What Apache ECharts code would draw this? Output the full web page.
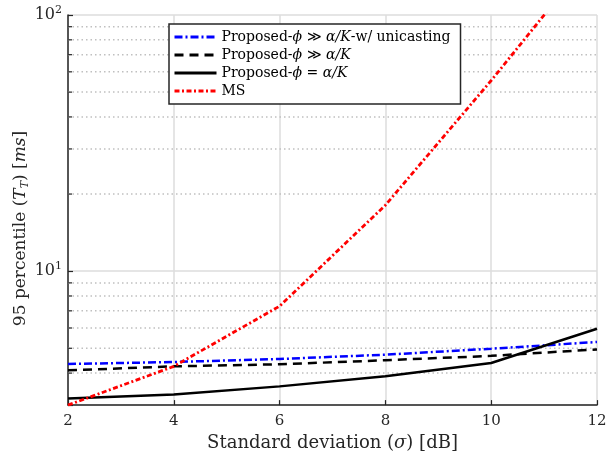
<!DOCTYPE html>
<html><head><meta charset="utf-8">
<script src="https://cdn.jsdelivr.net/npm/echarts@6/dist/echarts.min.js"></script>
<style>html,body{margin:0;padding:0;background:#fff}#c{width:613px;height:457px}</style>
</head><body><div id="c"></div>
<script>
const xValues = [2, 4, 6, 8, 10, 12];
const blueUnicast = [4.34, 4.42, 4.54, 4.72, 4.98, 5.29];
const blackDashed = [4.10, 4.25, 4.33, 4.49, 4.67, 4.95];
const blackSolid = [3.18, 3.30, 3.55, 3.89, 4.38, 5.96];
const redMS = [3.0, 4.25, 7.30, 18.1, 55.5, 180];
const minorTicks = [4, 5, 6, 7, 8, 9, 20, 30, 40, 50, 60, 70, 80, 90];
const seriesNames = ['unicast', 'gg', 'eq', 'MS'];
const legendLabels = {
  unicast: '{n|Proposed-}{i|ϕ}{n| ≫ }{i|α/K}{n|-w/ unicasting}',
  gg: '{n|Proposed-}{i|ϕ}{n| ≫ }{i|α/K}',
  eq: '{n|Proposed-}{i|ϕ}{n| = }{i|α/K}',
  MS: '{n|MS}'
};
const FONT = 'DejaVu Serif';
const pairs = ys => xValues.map((x, i) => [x, ys[i]]);

const chart = echarts.init(document.getElementById('c'), null, {renderer: 'canvas'});
chart.setOption({
  animation: false,
  backgroundColor: '#fff',
  grid: {left: 68, right: 16, top: 15, bottom: 48, containLabel: false},
  xAxis: {
    type: 'value', min: 2, max: 12, interval: 2,
    name: '{n|Standard deviation (}{i|σ}{n|) [dB]}',
    nameLocation: 'middle', nameGap: 27,
    nameTextStyle: {rich: {n: {fontFamily: FONT, fontSize: 18, color: '#262626'}, i: {fontFamily: FONT, fontSize: 18, fontStyle: 'italic', color: '#262626'}}},
    axisLine: {lineStyle: {color: '#262626', width: 1.5}},
    axisTick: {inside: true, length: 5, lineStyle: {color: '#262626', width: 1.2}},
    axisLabel: {fontFamily: FONT, fontSize: 15, color: '#262626', margin: 9},
    splitLine: {show: true, lineStyle: {color: '#dcdcdc', width: 1.5}}
  },
  yAxis: {
    type: 'log', logBase: 10, min: 3, max: 100,
    axisLine: {show: true, lineStyle: {color: '#262626', width: 1.5}},
    axisTick: {show: true, inside: true, length: 5, lineStyle: {color: '#262626', width: 1.2}},
    axisLabel: {
      margin: 6,
      formatter: v => {
        const k = Math.round(Math.log10(v));
        if (Math.abs(v - Math.pow(10, k)) < 1e-6 * v) return '{b|10}{s|' + k + '}';
        return '';
      },
      rich: {
        b: {fontFamily: FONT, fontSize: 16, color: '#262626'},
        s: {fontFamily: FONT, fontSize: 11, color: '#262626', padding: [0, 0, 10, 0]}
      }
    },
    splitLine: {show: true, lineStyle: {color: '#dcdcdc', width: 1.5}}
  },
  legend: {
    data: seriesNames,
    orient: 'vertical', left: 169, top: 24,
    itemWidth: 42, itemHeight: 12, itemGap: 4,
    padding: [6, 10, 6, 4],
    backgroundColor: '#fff', borderColor: '#262626', borderWidth: 1.5, borderRadius: 0,
    itemStyle: {color: 'transparent', borderWidth: 0, opacity: 0},
    lineStyle: {width: 3},
    formatter: n => legendLabels[n],
    textStyle: {
      rich: {
        n: {fontFamily: FONT, fontSize: 14, color: '#000', lineHeight: 15},
        i: {fontFamily: FONT, fontSize: 14, fontStyle: 'italic', color: '#000', lineHeight: 15}
      }
    }
  },
  graphic: [{
    type: 'text', left: 12, top: 'middle', rotation: Math.PI / 2,
    style: {
      text: '{n|95 percentile (}{i|T}{sub|T}{n|) [}{i|ms}{n|]}',
      rich: {
        n: {fontFamily: FONT, fontSize: 17, fill: '#262626'},
        i: {fontFamily: FONT, fontSize: 17, fontStyle: 'italic', fill: '#262626'},
        sub: {fontFamily: FONT, fontSize: 11, fontStyle: 'italic', fill: '#262626', padding: [9, 0, 0, 0]}
      }
    }
  }],
  series: [
    {
      type: 'custom', name: 'minor', silent: true, z: 1,
      data: minorTicks.map(v => [xValues[0], v]),
      renderItem: (params, api) => {
        const v = api.value(1);
        const p0 = api.coord([xValues[0], v]);
        const p1 = api.coord([xValues[xValues.length - 1], v]);
        return {type: 'group', children: [
          {type: 'line', shape: {x1: p0[0], y1: p0[1], x2: p1[0], y2: p1[1]},
           style: {stroke: '#c0c0c0', lineWidth: 1.5, lineDash: [1.5, 3]}},
          {type: 'line', shape: {x1: p0[0], y1: p0[1], x2: p0[0] + 4, y2: p0[1]},
           style: {stroke: '#262626', lineWidth: 1.2}}
        ]};
      }
    },
    {name: 'unicast', type: 'line', data: pairs(blueUnicast), symbol: 'none', z: 3,
     lineStyle: {color: '#0000ff', width: 2.5, type: [8, 3, 2, 3]}, itemStyle: {color: '#0000ff'}},
    {name: 'gg', type: 'line', data: pairs(blackDashed), symbol: 'none', z: 3,
     lineStyle: {color: '#000', width: 2.5, type: [9, 6]}, itemStyle: {color: '#000'}},
    {name: 'eq', type: 'line', data: pairs(blackSolid), symbol: 'none', z: 3,
     lineStyle: {color: '#000', width: 2.5, type: 'solid'}, itemStyle: {color: '#000'}},
    {name: 'MS', type: 'line', data: pairs(redMS), symbol: 'none', z: 3, clip: true,
     lineStyle: {color: '#ff0000', width: 2.8, type: [5, 2.5, 2, 2.5]}, itemStyle: {color: '#ff0000'}}
  ]
});
</script></body></html>
